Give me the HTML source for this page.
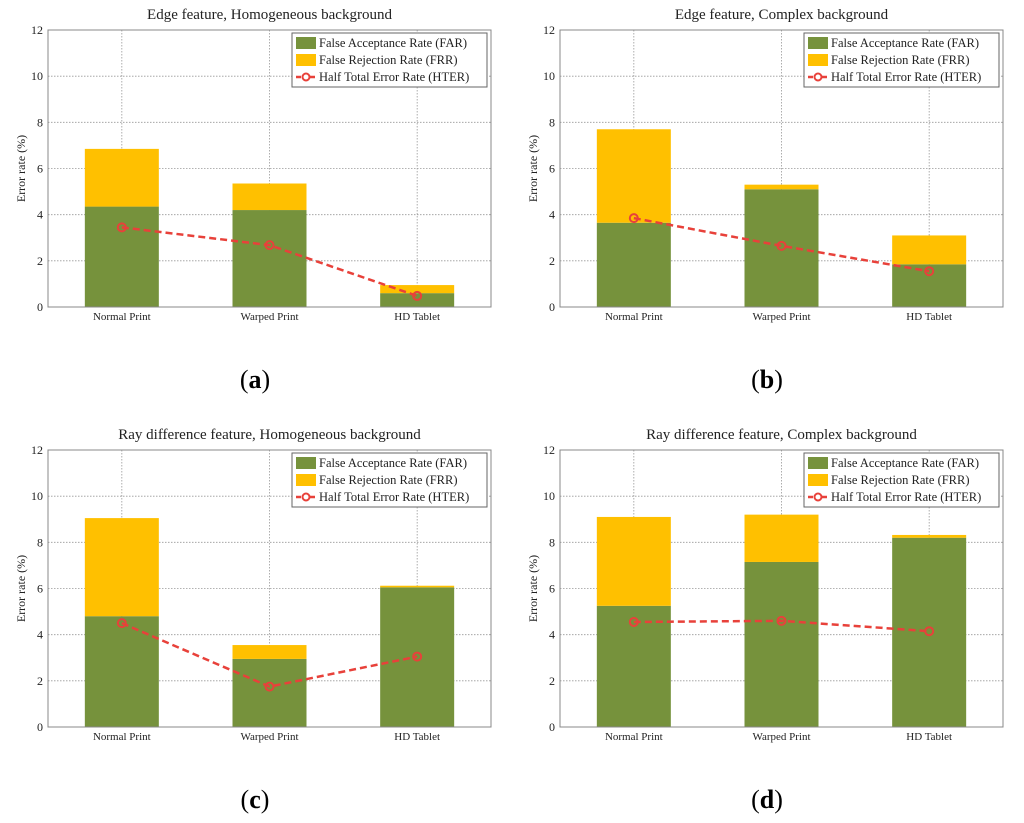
<!DOCTYPE html>
<html><head><meta charset="utf-8"><style>
html,body{margin:0;padding:0;background:#fff}
svg{display:block;font-family:"Liberation Serif",serif}
</style></head><body>
<svg id="fig" width="1024" height="823" viewBox="0 0 1024 823" xmlns="http://www.w3.org/2000/svg"></svg>
<script>
const categories = ["Normal Print","Warped Print","HD Tablet"];
const yTicks = [0,2,4,6,8,10,12];
const titles = ["Edge feature, Homogeneous background","Edge feature, Complex background","Ray difference feature, Homogeneous background","Ray difference feature, Complex background"];
const captions = ["a","b","c","d"];
const farA = [4.35,4.2,0.6];   const frrA = [2.5,1.15,0.35];  const hterA = [3.45,2.68,0.48];
const farB = [3.65,5.1,1.85];  const frrB = [4.05,0.2,1.25];  const hterB = [3.85,2.65,1.55];
const farC = [4.8,2.95,6.05];  const frrC = [4.25,0.6,0.07];  const hterC = [4.5,1.75,3.05];
const farD = [5.25,7.15,8.2];  const frrD = [3.85,2.05,0.12]; const hterD = [4.55,4.6,4.15];
const panels = [[farA,frrA,hterA],[farB,frrB,hterB],[farC,frrC,hterC],[farD,frrD,hterD]];
const NS="http://www.w3.org/2000/svg";
const svg=document.getElementById('fig');
function mk(tag,attrs,parent,text){const e=document.createElementNS(NS,tag);for(const k in attrs)e.setAttribute(k,attrs[k]);if(text!==undefined)e.textContent=text;(parent||svg).appendChild(e);return e;}
panels.forEach((p,i)=>{
  const ox=(i%2)*512, oy=Math.floor(i/2)*420;
  const L=ox+48,R=ox+491,T=oy+30,B=oy+307;
  const g=mk('g',{});
  
  
  const y=v=>B-(v/12)*(B-T);
  const xc=j=>L+(R-L)*(j+0.5)/3;
  const bw=74;
  mk('rect',{x:L,y:T,width:R-L,height:B-T,fill:'#fff'},g);
  // grid
  yTicks.forEach(t=>{ if(t>0&&t<12){const l=mk('line',{x1:L,x2:R,y1:y(t),y2:y(t),stroke:'#999','stroke-width':0.8,'stroke-dasharray':'1.5,1.5'},g);}});
  categories.forEach((c,j)=>{const l=mk('line',{x1:xc(j),x2:xc(j),y1:T,y2:B,stroke:'#999','stroke-width':0.8,'stroke-dasharray':'1.5,1.5'},g);});
  // bars
  categories.forEach((c,j)=>{
    const b1=mk('rect',{x:xc(j)-bw/2,y:y(p[0][j]),width:bw,height:B-y(p[0][j]),fill:'#76923c'},g);
    
    
    const top=p[0][j]+p[1][j];
    const b2=mk('rect',{x:xc(j)-bw/2,y:y(top),width:bw,height:y(p[0][j])-y(top),fill:'#ffc000'},g);
    
    
  });
  // hter line
  const pts=p[2].map((v,j)=>xc(j)+','+y(v)).join(' ');
  const pl=mk('polyline',{points:pts,fill:'none',stroke:'#e8413a','stroke-width':2.5,'stroke-dasharray':'7,4'},g);
  
  
  p[2].forEach((v,j)=>{const c=mk('circle',{cx:xc(j),cy:y(v),r:4,fill:'none',stroke:'#e8413a','stroke-width':2},g);});
  // axes box
  mk('rect',{x:L,y:T,width:R-L,height:B-T,fill:'none',stroke:'#888','stroke-width':1},g);
  // ticks
  yTicks.forEach(t=>{const tx=mk('text',{x:L-5,y:y(t)+4,'font-size':12,'text-anchor':'end',fill:'#222'},g,String(t));});
  categories.forEach((c,j)=>{const tx=mk('text',{x:xc(j),y:B+13,'font-size':11,'text-anchor':'middle',fill:'#222'},g,c);});
  const yt=mk('text',{x:0,y:0,'font-size':12,'text-anchor':'middle',fill:'#222',transform:`translate(${ox+25},${(T+B)/2}) rotate(-90)`},g,'Error rate (%)');
  
  const tt=mk('text',{x:(L+R)/2,y:oy+19,'font-size':15,'text-anchor':'middle',fill:'#222'},g,titles[i]);
  
  // legend
  const lg=mk('g',{},g);
  
  const lx=ox+292, ly=oy+33;
  mk('rect',{x:lx,y:ly,width:195,height:54,fill:'#fff',stroke:'#666','stroke-width':1},lg);
  mk('rect',{x:lx+4,y:ly+4,width:20,height:12,fill:'#76923c'},lg);
  mk('rect',{x:lx+4,y:ly+21,width:20,height:12,fill:'#ffc000'},lg);
  mk('line',{x1:lx+4,x2:lx+24,y1:ly+44,y2:ly+44,stroke:'#e8413a','stroke-width':2.5,'stroke-dasharray':'5,2'},lg);
  mk('circle',{cx:lx+14,cy:ly+44,r:3.5,fill:'#fff',stroke:'#e8413a','stroke-width':2},lg);
  ['False Acceptance Rate (FAR)','False Rejection Rate (FRR)','Half Total Error Rate (HTER)'].forEach((s,k)=>{const e=mk('text',{x:lx+27,y:ly+14+k*17,'font-size':12.5,fill:'#222'},lg,s);});
  // caption
  const cap=mk('text',{x:ox+255,y:oy+388,'font-size':26,'text-anchor':'middle',fill:'#000'},g);
  
  mk('tspan',{},cap,'(');mk('tspan',{'font-weight':'bold'},cap,captions[i]);mk('tspan',{},cap,')');
});
</script>
</body></html>
